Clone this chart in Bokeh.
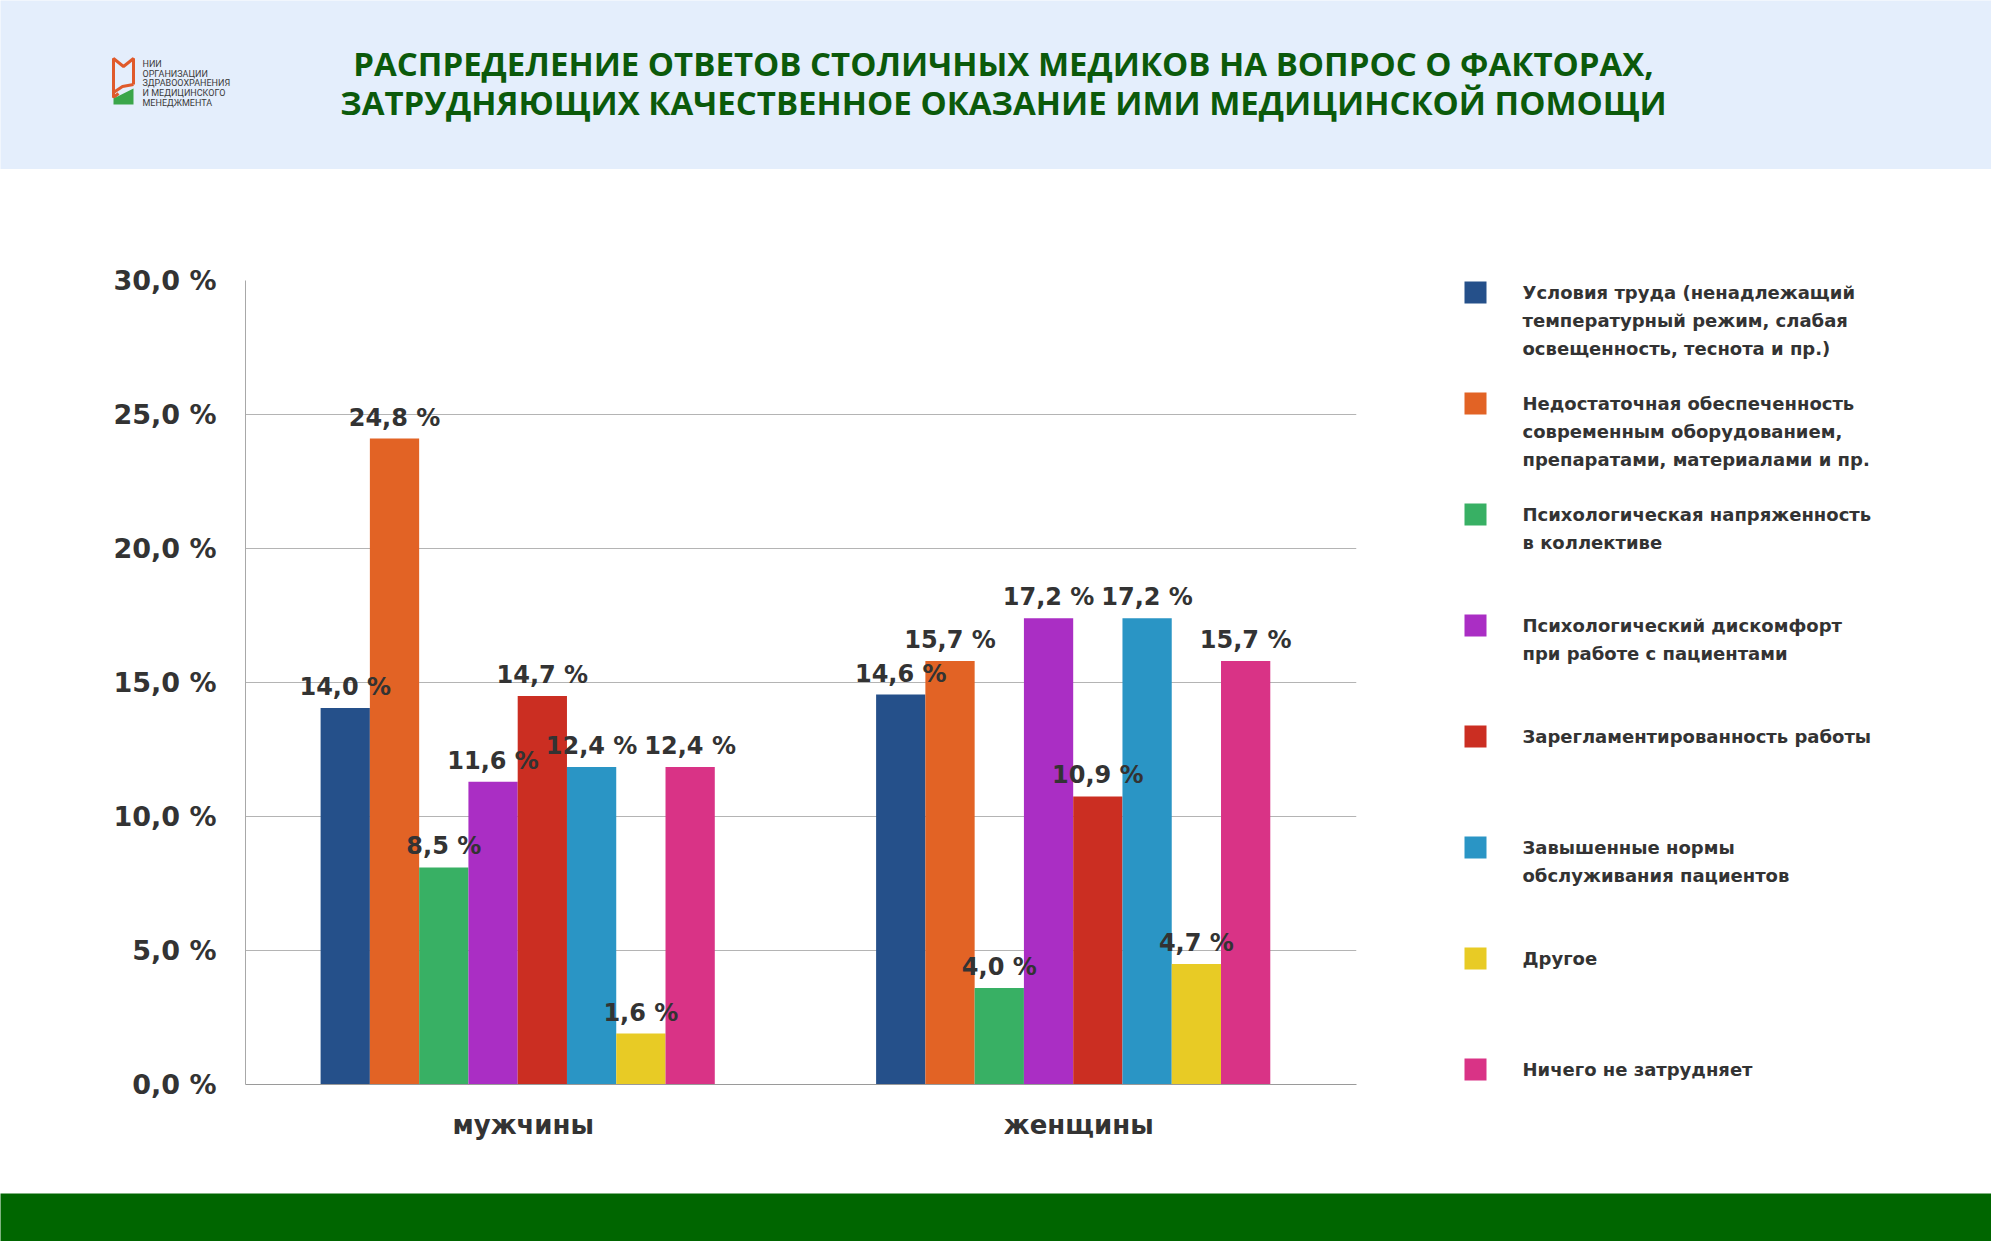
from bokeh.plotting import figure
from bokeh.layouts import column, row
from bokeh.models import ColumnDataSource, FactorRange, Range1d, FixedTicker
from bokeh.transform import dodge
from bokeh.core.properties import value
from bokeh.embed import file_html
from bokeh.resources import INLINE

title_lines = [
    "РАСПРЕДЕЛЕНИЕ ОТВЕТОВ СТОЛИЧНЫХ МЕДИКОВ НА ВОПРОС О ФАКТОРАХ,",
    "ЗАТРУДНЯЮЩИХ КАЧЕСТВЕННОЕ ОКАЗАНИЕ ИМИ МЕДИЦИНСКОЙ ПОМОЩИ",
]
logo_lines = ["НИИ", "ОРГАНИЗАЦИИ", "ЗДРАВООХРАНЕНИЯ", "И МЕДИЦИНСКОГО", "МЕНЕДЖМЕНТА"]

groups = ["мужчины", "женщины"]
factors = [
    "Условия труда (ненадлежащий\nтемпературный режим, слабая\nосвещенность, теснота и пр.)",
    "Недостаточная обеспеченность\nсовременным оборудованием,\nпрепаратами, материалами и пр.",
    "Психологическая напряженность\nв коллективе",
    "Психологический дискомфорт\nпри работе с пациентами",
    "Зарегламентированность работы",
    "Завышенные нормы\nобслуживания пациентов",
    "Другое",
    "Ничего не затрудняет",
]
colors = ["#25508a", "#e26325", "#38b064", "#aa2ec4",
          "#cb2e22", "#2a95c5", "#e8cb25", "#d93386"]

# printed values, %
men_labels = [14.0, 24.8, 8.5, 11.6, 14.7, 12.4, 1.6, 12.4]
women_labels = [14.6, 15.7, 4.0, 17.2, 10.9, 17.2, 4.7, 15.7]
# bar heights as drawn in the picture, %
men_bars = [14.05, 24.1, 8.1, 11.3, 14.5, 11.85, 1.9, 11.85]
women_bars = [14.55, 15.8, 3.6, 17.4, 10.75, 17.4, 4.5, 15.8]

y_ticks = [0, 5, 10, 15, 20, 25, 30]

TXT = "#333333"
FONT = "DejaVu Sans"


def pct(v):
    return f"{v:.1f} %".replace(".", ",")


def blank(fig, bg):
    fig.axis.visible = False
    fig.grid.visible = False
    fig.outline_line_color = None
    fig.background_fill_color = bg
    fig.border_fill_color = bg
    fig.min_border = 0


# header band
hdr = figure(width=1991, height=169, x_range=Range1d(0, 1991), y_range=Range1d(169, 0),
             output_backend="svg", toolbar_location=None)
blank(hdr, "#e4eefc")
hdr.text(x=[1003] * 2, y=[63, 102], text=title_lines, text_align="center",
         text_baseline="middle", text_color="#0b5a0b", text_font=value("Open Sans"),
         text_font_style="bold", text_font_size="33px")
hdr.line(x=[118, 113, 113, 123, 133, 133], y=[93, 97, 58, 66, 58, 84],
         line_color="#e05a2b", line_width=3)
hdr.line(x=[113, 122, 133], y=[92, 86, 84], line_color="#e05a2b", line_width=3)
hdr.patch(x=[113, 133, 133, 113], y=[104, 104, 88, 98], fill_color="#3aa64a", line_color=None)
hdr.text(x=[142] * 5, y=[63, 73, 82, 92, 102], text=logo_lines, text_align="left",
         text_baseline="middle", text_color="#3a3a3a", text_font=value("Roboto"),
         text_font_size="9px")

# main chart
p = figure(x_range=FactorRange(factors=groups), y_range=Range1d(0, 30),
           width=1400, height=1024, output_backend="svg", toolbar_location=None,
           min_border_left=245, min_border_right=44, min_border_top=111, min_border_bottom=109)
p.outline_line_color = None
p.xgrid.grid_line_color = None
p.ygrid.grid_line_color = "#b4b4b4"
p.ygrid.grid_line_width = 1.2
p.yaxis.ticker = FixedTicker(ticks=y_ticks)
p.yaxis.major_label_overrides = {t: pct(t) for t in y_ticks}
p.yaxis.axis_line_color = "#a8a8a8"
p.xaxis.axis_line_color = "#9a9a9a"
p.axis.major_tick_line_color = None
p.axis.minor_tick_line_color = None
p.yaxis.major_label_standoff = 23
p.xaxis.major_label_standoff = 19
p.axis.major_label_text_font = FONT
p.axis.major_label_text_font_style = "bold"
p.axis.major_label_text_color = TXT
p.yaxis.major_label_text_font_size = "27px"
p.xaxis.major_label_text_font_size = "26px"

bar_w = 0.0887
sources = []
for i, c in enumerate(colors):
    src = ColumnDataSource(data=dict(
        group=groups,
        top=[men_bars[i], women_bars[i]],
        label=[pct(men_labels[i]), pct(women_labels[i])],
    ))
    off = (i - 3.5) * bar_w - 0.01
    sources.append((src, off))
    p.vbar(x=dodge("group", off, range=p.x_range), top="top", width=bar_w,
           source=src, fill_color=c, line_color=None)

# value labels go on top of every bar
for src, off in sources:
    p.text(x=dodge("group", off, range=p.x_range), y="top", text="label", source=src,
           text_align="center", text_baseline="bottom", y_offset=-7,
           text_color=TXT, text_font=value(FONT), text_font_style="bold",
           text_font_size="24px")

# legend, its frame lines up with the chart frame (page y 280..1084)
lg = figure(width=591, height=1024, x_range=Range1d(1400, 1991), y_range=Range1d(1084, 280),
            output_backend="svg", toolbar_location=None)
blank(lg, "white")
lg.min_border_top = 111
lg.min_border_bottom = 109
item_y = [292 + 111 * i for i in range(len(factors))]
lg.rect(x=[1475] * len(factors), y=item_y, width=22, height=22,
        fill_color=colors, line_color=None)
lx, ly, lt = [], [], []
for yy, name in zip(item_y, factors):
    for j, line in enumerate(name.split("\n")):
        lx.append(1522)
        ly.append(yy + 28 * j)
        lt.append(line)
lg.text(x=lx, y=ly, text=lt, text_align="left", text_baseline="middle",
        text_color=TXT, text_font=value(FONT), text_font_style="bold",
        text_font_size="18px")

# footer band
ft = figure(width=1991, height=48, x_range=Range1d(0, 1), y_range=Range1d(0, 1),
            output_backend="svg", toolbar_location=None)
blank(ft, "#006600")

page = column(hdr, row(p, lg), ft)
open("out.html", "w").write(file_html(page, INLINE))
